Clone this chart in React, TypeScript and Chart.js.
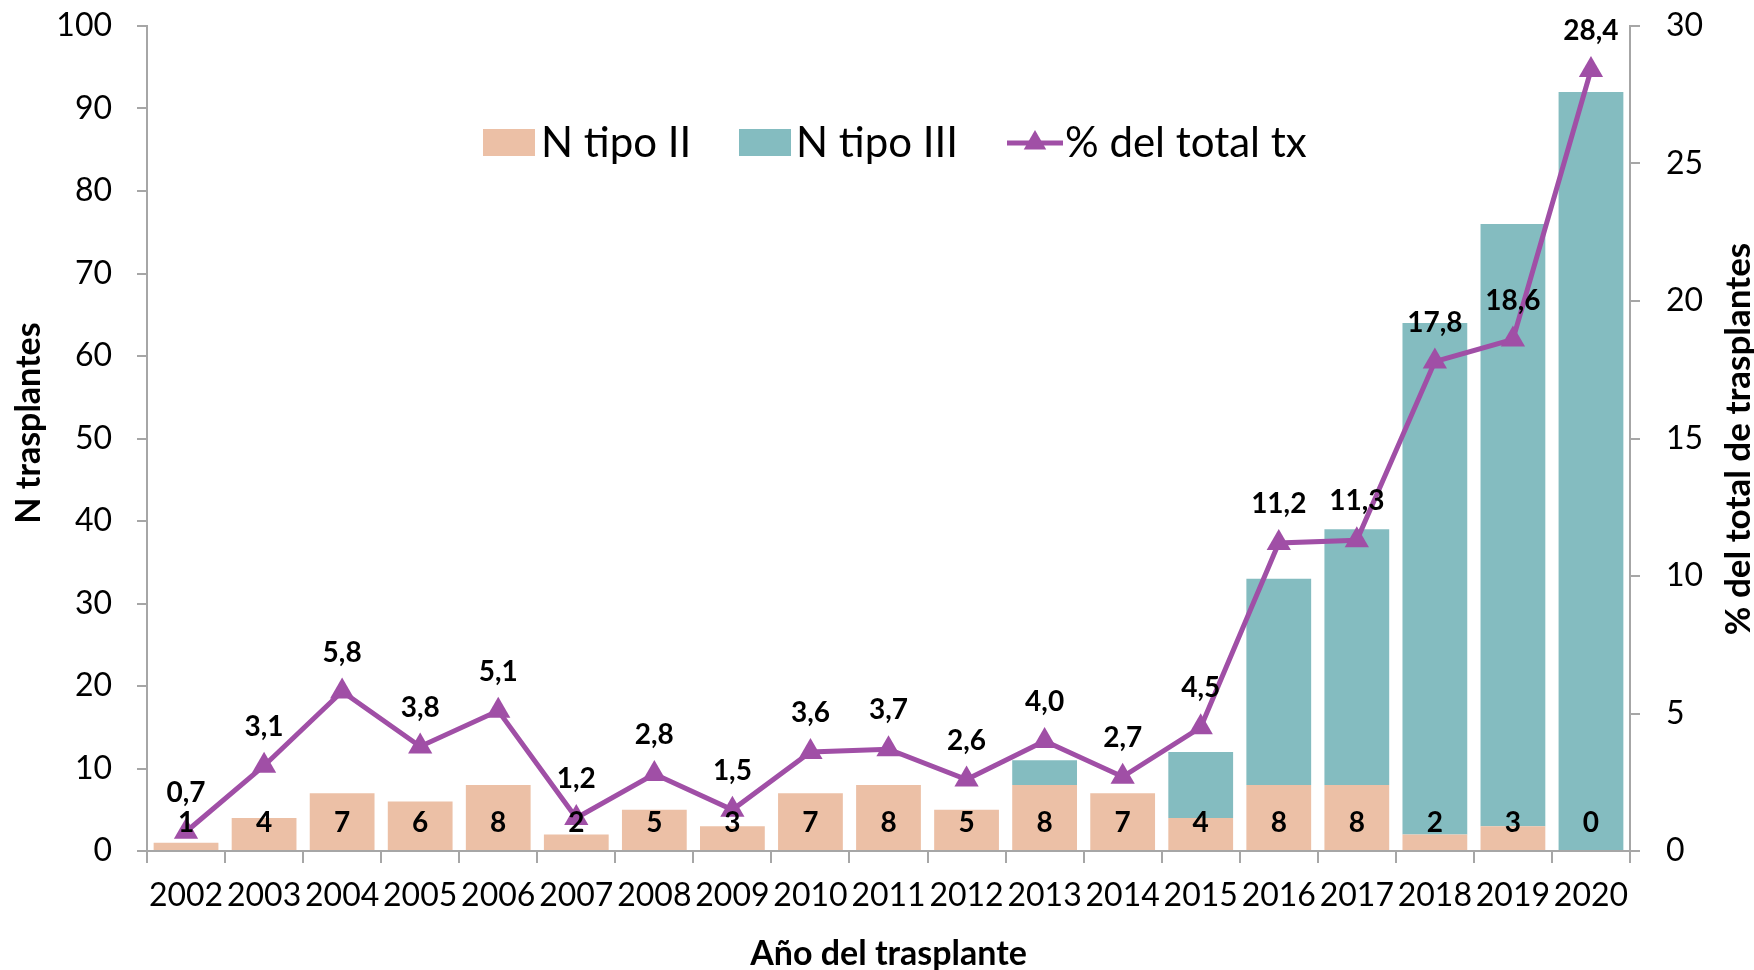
import React, { useEffect, useRef } from 'react';
import { Chart, registerables } from 'chart.js';

Chart.register(...registerables);

const years = ['2002', '2003', '2004', '2005', '2006', '2007', '2008', '2009', '2010', '2011', '2012', '2013', '2014', '2015', '2016', '2017', '2018', '2019', '2020'];
const tipoII = [1, 4, 7, 6, 8, 2, 5, 3, 7, 8, 5, 8, 7, 4, 8, 8, 2, 3, 0];
const tipoIII = [0, 0, 0, 0, 0, 0, 0, 0, 0, 0, 0, 3, 0, 8, 25, 31, 62, 73, 92];
const pctTotal = [0.7, 3.1, 5.8, 3.8, 5.1, 1.2, 2.8, 1.5, 3.6, 3.7, 2.6, 4.0, 2.7, 4.5, 11.2, 11.3, 17.8, 18.6, 28.4];

const legendLabels = ['N tipo II', 'N tipo III', '% del total tx'];
const xTitle = 'Año del trasplante';
const yTitle = 'N trasplantes';
const y1Title = '% del total de trasplantes';

const PEACH = '#ECC0A6';
const TEAL = '#84BCC0';
const PURPLE = '#A04FA6';
const AXIS = '#A6A6A6';
const FONT = 'Lato';

function drawTriangle(ctx: CanvasRenderingContext2D, x: number, y: number, r: number) {
  ctx.beginPath();
  let rad = 0;
  ctx.moveTo(x + Math.sin(rad) * r, y - Math.cos(rad) * r);
  rad += (2 * Math.PI) / 3;
  ctx.lineTo(x + Math.sin(rad) * r, y - Math.cos(rad) * r);
  rad += (2 * Math.PI) / 3;
  ctx.lineTo(x + Math.sin(rad) * r, y - Math.cos(rad) * r);
  ctx.closePath();
  ctx.fill();
}

const overlayPlugin = {
  id: 'overlayPlugin',
  afterDatasetsDraw(chart: any) {
    const ctx: CanvasRenderingContext2D = chart.ctx;
    const area = chart.chartArea;
    ctx.save();
    ctx.fillStyle = '#000';
    ctx.font = `bold 28px ${FONT}`;
    ctx.textAlign = 'center';
    ctx.textBaseline = 'alphabetic';
    const barMeta = chart.getDatasetMeta(1);
    barMeta.data.forEach((el: any, i: number) => {
      ctx.fillText(String(tipoII[i]), el.x, area.bottom - 19);
    });
    const lineMeta = chart.getDatasetMeta(0);
    lineMeta.data.forEach((el: any, i: number) => {
      ctx.fillText(pctTotal[i].toFixed(1).replace('.', ','), el.x, el.y - 30);
    });
    ctx.restore();
  },
  afterDraw(chart: any) {
    const ctx: CanvasRenderingContext2D = chart.ctx;
    const area = chart.chartArea;
    ctx.save();
    // Axis titles
    ctx.fillStyle = '#000';
    ctx.font = `bold 34px ${FONT}`;
    ctx.textAlign = 'center';
    ctx.textBaseline = 'alphabetic';
    ctx.fillText(xTitle, (area.left + area.right) / 2, 965);
    ctx.save();
    ctx.translate(40, 423);
    ctx.rotate(-Math.PI / 2);
    ctx.fillText(yTitle, 0, 0);
    ctx.restore();
    ctx.save();
    ctx.font = `bold 35px ${FONT}`;
    ctx.translate(1750, 439);
    ctx.rotate(-Math.PI / 2);
    ctx.fillText(y1Title, 0, 0);
    ctx.restore();

    // Legend
    ctx.font = `42px ${FONT}`;
    ctx.textAlign = 'left';
    ctx.fillStyle = PEACH;
    ctx.fillRect(483, 129, 52, 27);
    ctx.fillStyle = '#000';
    ctx.fillText(legendLabels[0], 541, 157);
    ctx.fillStyle = TEAL;
    ctx.fillRect(739, 129, 52, 27);
    ctx.fillStyle = '#000';
    ctx.fillText(legendLabels[1], 796, 157);
    ctx.strokeStyle = PURPLE;
    ctx.lineWidth = 5;
    ctx.beginPath();
    ctx.moveTo(1007, 143);
    ctx.lineTo(1063, 143);
    ctx.stroke();
    ctx.fillStyle = PURPLE;
    drawTriangle(ctx, 1035, 143, 13);
    ctx.fillStyle = '#000';
    ctx.fillText(legendLabels[2], 1065, 157);
    ctx.restore();
  },
};

export default function App() {
  const canvasRef = useRef<HTMLCanvasElement | null>(null);

  useEffect(() => {
    document.body.style.margin = '0';
    let chart: Chart | null = null;
    let cancelled = false;

    const build = () => {
      if (cancelled || !canvasRef.current) return;
      chart = new Chart(canvasRef.current, {
        type: 'bar',
        data: {
          labels: years,
          datasets: [
            {
              type: 'line',
              label: legendLabels[2],
              data: pctTotal,
              yAxisID: 'y1',
              borderColor: PURPLE,
              backgroundColor: PURPLE,
              borderWidth: 5,
              pointStyle: 'triangle',
              pointRadius: 14,
              pointBackgroundColor: PURPLE,
              pointBorderColor: PURPLE,
              pointBorderWidth: 0,
              tension: 0,
              order: 0,
              clip: false,
            } as any,
            {
              type: 'bar',
              label: legendLabels[0],
              data: tipoII,
              yAxisID: 'y',
              backgroundColor: PEACH,
              stack: 's',
              barPercentage: 0.83,
              categoryPercentage: 1,
              order: 1,
            },
            {
              type: 'bar',
              label: legendLabels[1],
              data: tipoIII,
              yAxisID: 'y',
              backgroundColor: TEAL,
              stack: 's',
              barPercentage: 0.83,
              categoryPercentage: 1,
              order: 1,
            },
          ],
        },
        options: {
          responsive: false,
          animation: false,
          devicePixelRatio: 1,
          layout: { padding: { top: 26, left: 0, right: 0, bottom: 0 } },
          plugins: {
            legend: { display: false },
            tooltip: { enabled: false },
          },
          scales: {
            x: {
              stacked: true,
              grid: {
                display: true,
                drawOnChartArea: false,
                drawTicks: true,
                tickLength: 12,
                color: AXIS,
                lineWidth: 2,
                offset: true,
              },
              border: { display: true, color: AXIS, width: 2 },
              ticks: {
                color: '#000',
                font: { family: FONT, size: 32 },
                padding: 13,
                maxRotation: 0,
                autoSkip: false,
              },
              afterFit: (scale: any) => {
                scale.height = 119;
                scale.paddingLeft = 0;
                scale.paddingRight = 0;
              },
            },
            y: {
              stacked: true,
              position: 'left',
              min: 0,
              max: 100,
              ticks: {
                stepSize: 10,
                color: '#000',
                font: { family: FONT, size: 32 },
                padding: 25,
              },
              grid: {
                display: true,
                drawOnChartArea: false,
                drawTicks: true,
                tickLength: 10,
                color: AXIS,
                lineWidth: 2,
              },
              border: { display: true, color: AXIS, width: 2 },
              afterFit: (scale: any) => {
                scale.width = 147;
                scale.paddingTop = 0;
                scale.paddingBottom = 0;
              },
            },
            y1: {
              position: 'right',
              min: 0,
              max: 30,
              ticks: {
                stepSize: 5,
                color: '#000',
                font: { family: FONT, size: 32 },
                padding: 26,
              },
              grid: {
                display: true,
                drawOnChartArea: false,
                drawTicks: true,
                tickLength: 10,
                color: AXIS,
                lineWidth: 2,
              },
              border: { display: true, color: AXIS, width: 2 },
              afterFit: (scale: any) => {
                scale.width = 124;
                scale.paddingTop = 0;
                scale.paddingBottom = 0;
              },
            },
          },
        },
        plugins: [overlayPlugin],
      } as any);
    };

    const fontsApi: any = (document as any).fonts;
    if (fontsApi && fontsApi.load) {
      Promise.all([
        fontsApi.load(`32px ${FONT}`),
        fontsApi.load(`bold 28px ${FONT}`),
        fontsApi.load(`42px ${FONT}`),
      ])
        .catch(() => undefined)
        .then(build);
    } else {
      build();
    }

    return () => {
      cancelled = true;
      if (chart) chart.destroy();
    };
  }, []);

  return (
    <div style={{ width: 1754, height: 970 }}>
      <canvas ref={canvasRef} width={1754} height={970} style={{ display: 'block' }} />
    </div>
  );
}
